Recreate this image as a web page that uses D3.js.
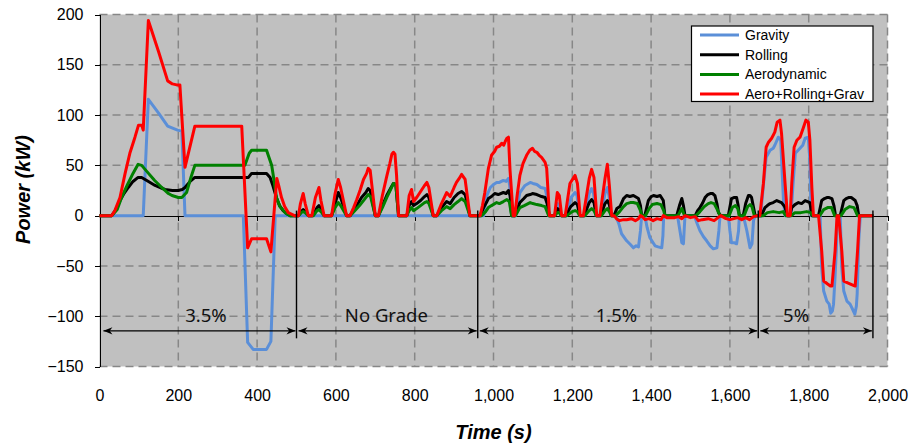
<!DOCTYPE html>
<html>
<head>
	<meta charset="utf-8" />
	<script src="https://d3js.org/d3.v7.min.js"></script>
	<style>
		body { margin: 0; background: #fff; }
		svg text { font-family: "Liberation Sans", Arial, sans-serif; }
		.axis path, .axis line { fill: none; stroke: #000; shape-rendering: crispEdges; }
		.grid line { stroke: #878787; stroke-width: 1.5; stroke-dasharray: 8,5; }
	</style>
</head>
<body>
<div id="chart"></div>
<script>

// [time (s), power (kW)]
var gravity = [[0,0],[111,0],[124,115.7],[150,102],[173,89],[198,85],[209,84],[217,0],[365,0],[376,-126],[390,-133],[424,-133],[435,-125],[446,0],
	[975,0],[983,20],[992,28],[1000,31],[1008,33],[1015,33],[1025,35],[1032,34],[1038,37],[1041,30],[1046,0],[1056,0],[1067,23],[1080,30],[1093,33],[1100,32],[1110,31],[1120,28],[1131,27],[1135,20],[1140,0],
	[1155,0],[1162,12],[1167,11],[1171,0],[1185,0],[1197,18],[1207,23],[1212,20],[1218,0],[1232,0],[1243,22],[1249,27],[1254,22],[1260,0],[1273,0],[1283,22],[1289,28],[1293,20],[1298,0],
	[1310,0],[1318,-8],[1325,-18],[1338,-25],[1348,-29],[1355,-32],[1362,-30],[1368,-31],[1373,-15],[1376,0],[1384,0],[1390,-12],[1397,-22],[1410,-30],[1418,-31],[1427,-32],[1430,-20],[1432,0],
	[1467,0],[1472,-12],[1478,-27],[1482,-28],[1486,0],[1510,0],[1517,-8],[1524,-15],[1533,-21],[1541,-25],[1550,-30],[1558,-33],[1567,-32],[1572,-15],[1575,0],
	[1596,0],[1600,-15],[1604,-27],[1612,-27],[1617,-28],[1622,-15],[1624,0],[1634,0],[1643,-15],[1651,-32],[1656,-28],[1660,-5],[1664,0],
	[1678,0],[1685,30],[1692,58],[1702,65],[1710,67],[1714,70],[1723,78],[1729,75],[1733,40],[1736,15],[1740,0],[1755,0],[1760,30],[1766,62],[1778,67],[1785,70],[1791,77],[1799,78],[1803,55],[1806,0],
	[1829,0],[1833,-52],[1838,-75],[1846,-85],[1852,-88],[1856,-97],[1860,-95],[1863,-88],[1867,-60],[1870,-35],[1873,0],[1880,0],[1884,-52],[1889,-75],[1897,-85],[1905,-88],[1910,-92],[1917,-98],[1921,-90],[1923,-78],[1927,-25],[1931,0],[1964,0]];

var rolling = [[0,0],[31,0],[40,5],[52,15],[62,22],[73,28],[85,34],[98,38],[107,38],[120,35],[141,30],[166,26],[185,25],[200,25],[210,26],[217,28],[230,34],[242,38],[378,38],[386,42],[424,42],[433,38],[440,30],[449,18],[457,10],[466,5],[475,2],[484,0],
	[505,0],[512,4],[517,6],[522,4],[530,0],[541,0],[552,8],[557,10],[562,7],[570,0],[589,0],[598,12],[606,23],[612,18],[627,0],[636,0],[645,6],[653,10],[665,18],[676,23],[682,27],[687,25],[700,0],
	[708,0],[718,10],[729,20],[740,28],[746,32],[752,31],[759,0],[780,0],[786,10],[792,14],[797,10],[805,12],[815,15],[825,19],[831,21],[836,18],[847,0],[856,0],[868,8],[881,14],[890,12],[900,18],[910,22],[919,24],[928,21],[940,0],
	[966,0],[975,8],[982,13],[987,17],[995,19],[1003,22],[1012,21],[1025,23],[1032,22],[1038,25],[1042,20],[1046,0],[1054,0],[1062,8],[1067,13],[1077,17],[1084,20],[1093,21],[1099,22],[1110,21],[1122,19],[1131,18],[1136,12],[1142,0],
	[1155,0],[1162,7],[1167,6],[1172,0],[1184,0],[1196,9],[1207,13],[1213,11],[1219,0],[1230,0],[1243,13],[1249,16],[1255,13],[1261,0],[1272,0],[1283,12],[1289,15],[1294,11],[1299,0],
	[1306,0],[1313,7],[1321,9],[1330,17],[1338,20],[1346,19],[1355,20],[1368,17],[1373,10],[1376,0],[1384,0],[1393,15],[1400,19],[1406,20],[1415,19],[1423,20],[1431,15],[1435,0],[1465,0],[1472,10],[1478,17],[1482,10],[1486,0],
	[1512,0],[1518,5],[1524,8],[1530,12],[1537,18],[1544,21],[1550,22],[1556,22],[1562,20],[1567,12],[1571,3],[1577,0],[1596,0],[1604,17],[1610,18],[1617,18],[1621,10],[1624,0],[1634,0],[1640,12],[1647,20],[1651,20],[1655,18],[1660,8],[1664,0],
	[1680,0],[1689,8],[1695,10],[1702,12],[1710,13],[1719,15],[1725,14],[1731,13],[1737,10],[1740,8],[1746,0],[1752,0],[1757,8],[1765,11],[1774,13],[1782,12],[1791,15],[1797,14],[1803,13],[1808,0],
	[1825,0],[1833,15],[1840,17],[1846,18],[1852,18],[1859,17],[1864,10],[1868,0],[1880,0],[1889,15],[1895,17],[1901,18],[1908,18],[1918,15],[1923,10],[1927,0],[1964,0]];

var aero = [[0,0],[31,0],[45,6],[56,18],[70,30],[85,42],[98,51],[107,50],[120,44],[140,35],[158,28],[175,22],[184,20],[200,18],[209,18],[221,23],[232,38],[242,50],[369,50],[380,62],[386,65],[424,65],[430,58],[437,50],[443,35],[449,18],[458,9],[471,3],[484,0],
	[505,0],[512,3],[517,4],[522,3],[530,0],[543,0],[552,5],[557,6],[562,4],[570,0],[589,0],[598,8],[606,13],[612,10],[627,0],[636,0],[648,5],[660,10],[672,16],[682,21],[688,19],[700,0],
	[708,0],[718,8],[729,18],[740,27],[746,32],[752,31],[759,0],[780,0],[786,5],[792,8],[797,5],[805,7],[815,10],[825,13],[831,14],[836,12],[847,0],[856,0],[868,5],[881,9],[890,7],[900,11],[910,14],[919,17],[928,14],[940,0],
	[970,0],[980,4],[987,8],[995,10],[1008,13],[1015,12],[1025,14],[1034,16],[1040,14],[1046,0],[1056,0],[1067,8],[1078,10],[1093,13],[1100,12],[1110,11],[1122,10],[1131,9],[1140,0],
	[1156,0],[1162,3],[1167,3],[1172,0],[1186,0],[1200,4],[1207,5],[1213,4],[1219,0],[1232,0],[1243,5],[1249,7],[1255,5],[1261,0],[1274,0],[1283,5],[1289,7],[1294,4],[1299,0],
	[1310,0],[1320,4],[1330,9],[1338,12],[1347,13],[1355,13],[1365,12],[1373,5],[1376,0],[1386,0],[1395,7],[1403,11],[1415,12],[1425,11],[1432,5],[1435,0],[1468,0],[1478,7],[1485,0],
	[1514,0],[1524,4],[1535,9],[1545,12],[1552,13],[1560,12],[1568,6],[1575,0],[1598,0],[1606,8],[1614,10],[1620,7],[1624,0],[1636,0],[1645,9],[1651,11],[1656,9],[1662,0],
	[1685,0],[1695,3],[1710,4],[1725,3],[1735,4],[1742,0],[1756,0],[1765,3],[1780,3],[1795,4],[1805,3],[1810,0],[1828,0],[1838,6],[1848,8],[1858,8],[1866,0],[1882,0],[1892,6],[1904,9],[1915,8],[1924,0],[1964,0]];

var total = [[0,0],[31,0],[39,5],[52,18],[65,42],[77,62],[90,78],[99,90],[107,90],[111,85],[124,194],[150,163],[173,134],[185,131],[196,130],[204,130],[217,48],[242,89],[361,89],[376,-32],[386,-23],[424,-23],[435,-36],[450,37],[456,28],[462,18],[470,9],[479,3],[495,0],
	[505,0],[510,12],[517,22],[522,12],[530,0],[539,0],[548,18],[557,28],[562,15],[570,0],[589,0],[598,22],[606,36],[612,28],[627,0],[636,0],[645,8],[653,16],[662,26],[670,36],[678,42],[682,47],[687,45],[700,0],
	[708,0],[718,20],[729,39],[737,52],[742,61],[746,63],[750,61],[754,40],[759,0],[780,0],[786,20],[792,26],[797,14],[805,18],[815,24],[825,30],[831,33],[836,28],[847,0],
	[856,0],[868,12],[881,23],[890,19],[900,28],[906,33],[913,37],[919,41],[928,36],[940,0],
	[966,0],[972,10],[978,23],[987,47],[995,60],[1003,64],[1008,68],[1015,69],[1021,72],[1026,70],[1030,74],[1034,77],[1038,78],[1042,45],[1050,0],[1054,0],[1060,20],[1067,40],[1075,52],[1084,60],[1092,65],[1099,67],[1104,64],[1110,63],[1116,60],[1122,58],[1131,53],[1135,47],[1142,0],
	[1155,0],[1162,23],[1167,20],[1173,0],[1182,0],[1194,32],[1207,40],[1213,32],[1220,0],[1228,0],[1243,37],[1249,46],[1255,38],[1262,0],[1270,0],[1283,37],[1289,51],[1294,30],[1300,0],
	[1306,0],[1312,-3],[1320,-5],[1330,-4],[1338,-4],[1350,-3],[1360,-5],[1368,-3],[1373,0],[1378,-1],[1385,-4],[1395,-3],[1405,-5],[1415,-3],[1425,-4],[1431,0],[1440,-2],[1460,-2],[1470,-1],[1478,-3],[1486,0],
	[1500,-2],[1512,-1],[1520,-5],[1530,-4],[1545,-3],[1560,-5],[1570,-2],[1577,0],[1590,-3],[1600,-4],[1610,-3],[1620,-2],[1630,-4],[1640,-2],[1650,-4],[1660,-1],[1670,0],
	[1676,0],[1685,32],[1692,68],[1698,73],[1706,77],[1714,83],[1720,93],[1727,95],[1731,82],[1740,32],[1746,0],[1753,0],[1757,32],[1763,68],[1770,75],[1778,78],[1786,87],[1793,95],[1799,93],[1803,75],[1808,28],[1812,0],
	[1825,0],[1833,-35],[1838,-65],[1848,-68],[1855,-70],[1859,-70],[1867,-35],[1872,0],[1876,0],[1884,-35],[1889,-65],[1906,-68],[1918,-70],[1924,-35],[1929,0],[1964,0]];

var seriesNames = ["Gravity", "Rolling", "Aerodynamic", "Aero+Rolling+Grav"];
var seriesColors = ["#5b8fd8", "#000000", "#008000", "#ff0000"];

var xTicks = [0, 200, 400, 600, 800, 1000, 1200, 1400, 1600, 1800, 2000];
var yTicks = [-150, -100, -50, 0, 50, 100, 150, 200];

// grade sections of the drive cycle
var gradeLabels = ["3.5%", "No Grade", "1.5%", "5%"];
var gradeLabelTimes = [270, 728, 1312, 1768];
var gradeBounds = [10, 500, 960, 1672, 1963];

var width = 911, height = 446;
var margin = { top: 14.5, right: 23.5, bottom: 79.5, left: 99.5 };

var x = d3.scaleLinear().domain([0, 2000]).range([margin.left, width - margin.right]);
var y = d3.scaleLinear().domain([-150, 200]).range([height - margin.bottom, margin.top]);

var svg = d3.select("#chart").append("svg")
	.attr("width", width)
	.attr("height", height);

// plot background
svg.append("rect")
	.attr("x", x(0))
	.attr("y", y(200))
	.attr("width", x(2000) - x(0))
	.attr("height", y(-150) - y(200))
	.attr("fill", "#c0c0c0");

// dashed grid
var grid = svg.append("g").attr("class", "grid");
grid.selectAll(".hgrid")
	.data(yTicks.filter(function (d) { return d != 0; }))
	.enter().append("line")
	.attr("x1", x(0)).attr("x2", x(2000))
	.attr("y1", function (d) { return y(d); })
	.attr("y2", function (d) { return y(d); });
grid.selectAll(".vgrid")
	.data(xTicks.filter(function (d) { return d != 0; }))
	.enter().append("line")
	.attr("y1", y(200)).attr("y2", y(-150))
	.attr("x1", function (d) { return x(d); })
	.attr("x2", function (d) { return x(d); });

// y axis
var yAxis = svg.append("g")
	.attr("class", "axis")
	.attr("transform", "translate(" + x(0) + ",0)")
	.call(d3.axisLeft(y).tickValues(yTicks).tickSize(5).tickSizeOuter(0).tickPadding(11));
yAxis.selectAll("text").style("font-size", "16px").attr("fill", "#000");

// x axis line at zero
svg.append("g")
	.attr("class", "axis")
	.attr("transform", "translate(0," + y(0) + ")")
	.call(d3.axisBottom(x).tickValues(xTicks.slice(1)).tickSize(5).tickSizeOuter(0).tickFormat(""));

// x tick labels under the plot
var xLabels = svg.append("g")
	.attr("transform", "translate(0," + y(-150) + ")")
	.call(d3.axisBottom(x).tickValues(xTicks).tickSize(0).tickPadding(23).tickFormat(d3.format(",")));
xLabels.select(".domain").remove();
xLabels.selectAll("text").style("font-size", "16px").attr("fill", "#000");

// the four series
var line = d3.line()
	.x(function (d) { return x(d[0]); })
	.y(function (d) { return y(d[1]); });

var allSeries = [gravity, rolling, aero, total];
svg.selectAll(".series")
	.data(allSeries)
	.enter().append("path")
	.attr("class", "series")
	.attr("d", line)
	.attr("fill", "none")
	.attr("stroke", function (d, i) { return seriesColors[i]; })
	.attr("stroke-width", 3)
	.attr("stroke-linejoin", "round");

// grade annotations
svg.append("defs").append("marker")
	.attr("id", "arrow")
	.attr("viewBox", "0 -5 10 10")
	.attr("refX", 10)
	.attr("refY", 0)
	.attr("markerUnits", "userSpaceOnUse")
	.attr("markerWidth", 11)
	.attr("markerHeight", 9)
	.attr("orient", "auto-start-reverse")
	.append("path")
	.attr("d", "M0,-4L10,0L0,4L3,0Z")
	.attr("fill", "#000");

svg.selectAll(".sep")
	.data(gradeBounds.slice(1))
	.enter().append("line")
	.attr("x1", function (d) { return x(d); })
	.attr("x2", function (d) { return x(d); })
	.attr("y1", y(5))
	.attr("y2", y(-122))
	.attr("stroke", "#000")
	.attr("stroke-width", 1.4);

svg.selectAll(".span")
	.data(gradeLabels)
	.enter().append("line")
	.attr("x1", function (d, i) { return x(gradeBounds[i]) + (i > 0 ? 2 : 0); })
	.attr("x2", function (d, i) { return x(gradeBounds[i + 1]) - 1; })
	.attr("y1", y(-114.5))
	.attr("y2", y(-114.5))
	.attr("stroke", "#000")
	.attr("stroke-width", 1.2)
	.attr("marker-start", "url(#arrow)")
	.attr("marker-end", "url(#arrow)");

svg.selectAll(".gradeLabel")
	.data(gradeLabels)
	.enter().append("text")
	.attr("x", function (d, i) { return x(gradeLabelTimes[i]); })
	.attr("y", y(-105.5))
	.attr("text-anchor", "middle")
	.style("font-family", "'Noto Sans', sans-serif")
	.style("font-size", "18.5px")
	.attr("fill", "#111")
	.text(function (d) { return d; });

// axis titles
svg.append("text")
	.attr("transform", "translate(29.5," + ((y(200) + y(-150)) / 2 - 1) + ") rotate(-90)")
	.attr("text-anchor", "middle")
	.style("font-size", "20px")
	.style("font-weight", "bold")
	.style("font-style", "italic")
	.text("Power (kW)");

svg.append("text")
	.attr("x", (x(0) + x(2000)) / 2)
	.attr("y", 439)
	.attr("text-anchor", "middle")
	.style("font-size", "20px")
	.style("font-weight", "bold")
	.style("font-style", "italic")
	.text("Time (s)");

// legend
var legend = svg.append("g").attr("transform", "translate(691.5,26)");
legend.append("rect")
	.attr("width", 181.5)
	.attr("height", 75.5)
	.attr("fill", "#fff")
	.attr("stroke", "#000")
	.attr("stroke-width", 1.2);

var item = legend.selectAll(".item")
	.data(seriesNames)
	.enter().append("g")
	.attr("transform", function (d, i) { return "translate(0," + (9 + i * 19.7) + ")"; });
item.append("line")
	.attr("x1", 8.5).attr("x2", 47.5)
	.attr("stroke", function (d, i) { return seriesColors[i]; })
	.attr("stroke-width", 3);
item.append("text")
	.attr("x", 53.5)
	.attr("dy", ".35em")
	.style("font-size", "14px")
	.text(function (d) { return d; });

</script>
</body>
</html>
